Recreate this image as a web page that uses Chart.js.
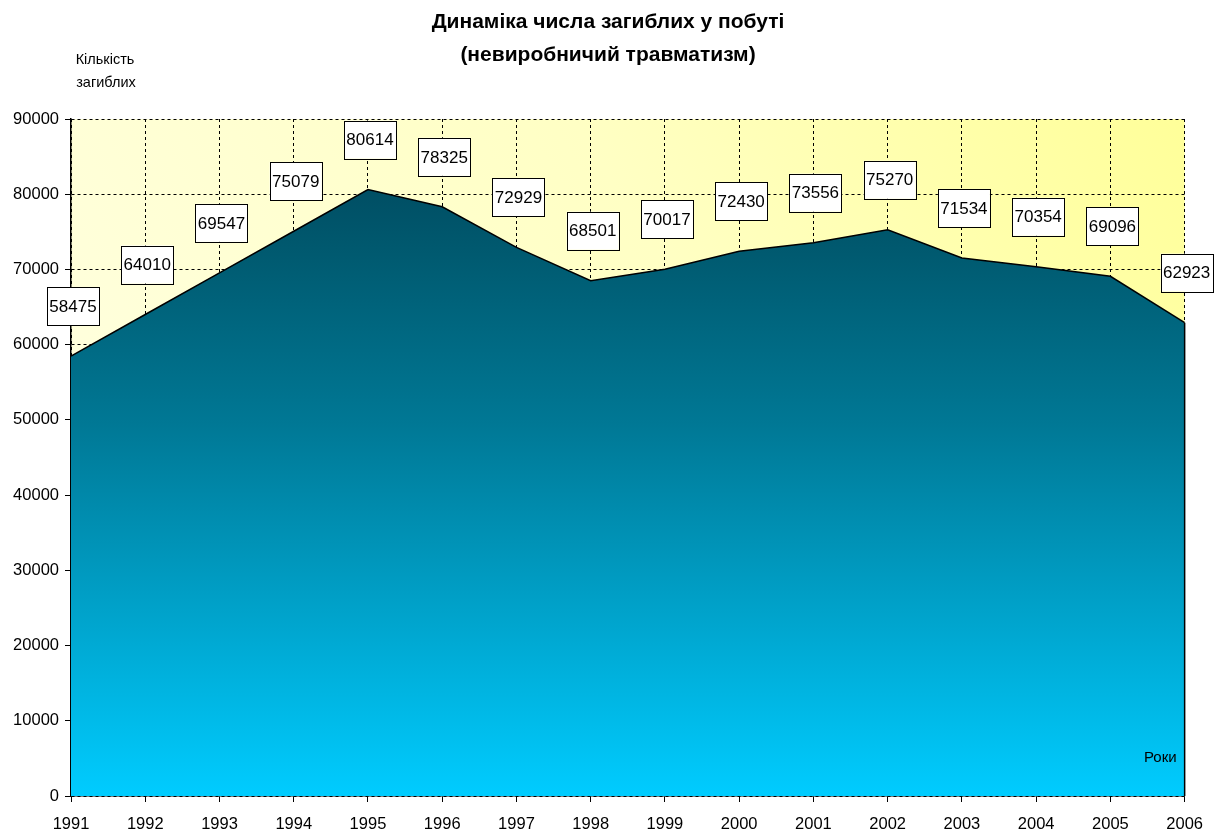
<!DOCTYPE html>
<html>
<head>
<meta charset="utf-8">
<script src="https://cdn.jsdelivr.net/npm/chart.js@4/dist/chart.umd.min.js"></script>
<style>
  html, body { margin: 0; padding: 0; background: #fff; }
  #wrap { width: 1216px; height: 837px; }
</style>
</head>
<body>
<div id="wrap"><canvas id="grafico"></canvas></div>
<script>
  const roky = ['1991', '1992', '1993', '1994', '1995', '1996', '1997', '1998', '1999', '2000', '2001', '2002', '2003', '2004', '2005', '2006'];
  const zagybli = [58475, 64010, 69547, 75079, 80614, 78325, 72929, 68501, 70017, 72430, 73556, 75270, 71534, 70354, 69096, 62923];
  const yTicks = [0, 10000, 20000, 30000, 40000, 50000, 60000, 70000, 80000, 90000];
  const titleLines = ['Динаміка числа загиблих у побуті', '(невиробничий травматизм)'];

  const FONT = '"Liberation Sans", Arial, sans-serif';

  // plot background: pale yellow -> yellow
  const tlo = {
    id: 'tlo',
    beforeDraw(chart) {
      const { ctx, chartArea: a } = chart;
      const g = ctx.createLinearGradient(a.left, a.bottom, a.right, a.top);
      g.addColorStop(0, '#ffffe6');
      g.addColorStop(0.6, '#ffffc4');
      g.addColorStop(1, '#ffff99');
      ctx.save();
      ctx.fillStyle = g;
      ctx.fillRect(a.left, a.top, a.right - a.left, a.bottom - a.top);
      ctx.restore();
    }
  };

  // boxed value labels, title and axis captions
  const pidpysy = {
    id: 'pidpysy',
    afterDraw(chart) {
      const { ctx, chartArea: a } = chart;
      const meta = chart.getDatasetMeta(0);
      ctx.save();
      // right edge of the area
      const last = meta.data[meta.data.length - 1];
      ctx.strokeStyle = '#000';
      ctx.lineWidth = 1.5;
      ctx.beginPath();
      ctx.moveTo(last.x, last.y);
      ctx.lineTo(last.x, a.bottom);
      ctx.stroke();

      ctx.font = '17px ' + FONT;
      ctx.textAlign = 'center';
      ctx.textBaseline = 'middle';
      meta.data.forEach((p, i) => {
        const w = 52, h = 38;
        const cx = p.x + 2, cy = p.y - 50;
        ctx.fillStyle = '#fff';
        ctx.fillRect(cx - w / 2, cy - h / 2, w, h);
        ctx.strokeStyle = '#000';
        ctx.lineWidth = 1;
        ctx.strokeRect(Math.round(cx - w / 2) + 0.5, Math.round(cy - h / 2) + 0.5, w, h);
        ctx.fillStyle = '#000';
        ctx.fillText(String(zagybli[i]), cx, cy + 1);
      });

      ctx.fillStyle = '#000';
      ctx.font = 'bold 21px ' + FONT;
      ctx.textAlign = 'center';
      ctx.fillText(titleLines[0], 608, 22);
      ctx.fillText(titleLines[1], 608, 55);

      ctx.font = '14.5px ' + FONT;
      ctx.fillText('Кількість', 105, 60);
      ctx.fillText('загиблих', 106, 83);
      ctx.font = '15px ' + FONT;
      ctx.textAlign = 'right';
      ctx.fillText('Роки', a.right - 8, a.bottom - 38);
      ctx.restore();
    }
  };

  const ctx = document.getElementById('grafico').getContext('2d');
  new Chart(ctx, {
    type: 'line',
    data: {
      labels: roky,
      datasets: [{
        label: 'Кількість загиблих',
        data: zagybli,
        fill: 'origin',
        borderColor: '#000',
        borderWidth: 1.5,
        pointRadius: 0,
        tension: 0,
        backgroundColor: (c) => {
          const a = c.chart.chartArea;
          if (!a) return '#0090b0';
          const g = c.chart.ctx.createLinearGradient(0, a.top, 0, a.bottom);
          g.addColorStop(0, '#004257');
          g.addColorStop(0.2, '#005a70');
          g.addColorStop(0.45, '#007895');
          g.addColorStop(1, '#00ccff');
          return g;
        }
      }]
    },
    options: {
      responsive: true,
      maintainAspectRatio: false,
      animation: false,
      layout: { padding: { top: 119, right: 31, bottom: 0, left: 0 } },
      plugins: {
        legend: { display: false },
        tooltip: { enabled: false },
        title: { display: false }
      },
      scales: {
        x: {
          offset: false,
          grid: { color: '#000', lineWidth: 1, tickLength: 6, tickColor: '#000' },
          border: { display: true, color: '#000', width: 1.5, dash: [3, 3] },
          ticks: { color: '#000', font: { family: FONT, size: 16.5 }, maxRotation: 0, autoSkip: false, padding: 13 },
          afterFit: (s) => { s.height = 41; }
        },
        y: {
          min: 0,
          max: 90000,
          afterBuildTicks: (s) => { s.ticks = yTicks.map(v => ({ value: v })); },
          grid: { color: '#000', lineWidth: 1, tickLength: 6, tickColor: '#000' },
          border: { display: true, color: '#000', width: 1.5, dash: [3, 3] },
          ticks: { color: '#000', font: { family: FONT, size: 16.5 }, padding: 6, callback: (v) => String(v) },
          afterFit: (s) => { s.width = 71; }
        }
      }
    },
    plugins: [tlo, pidpysy]
  });
</script>
</body>
</html>
